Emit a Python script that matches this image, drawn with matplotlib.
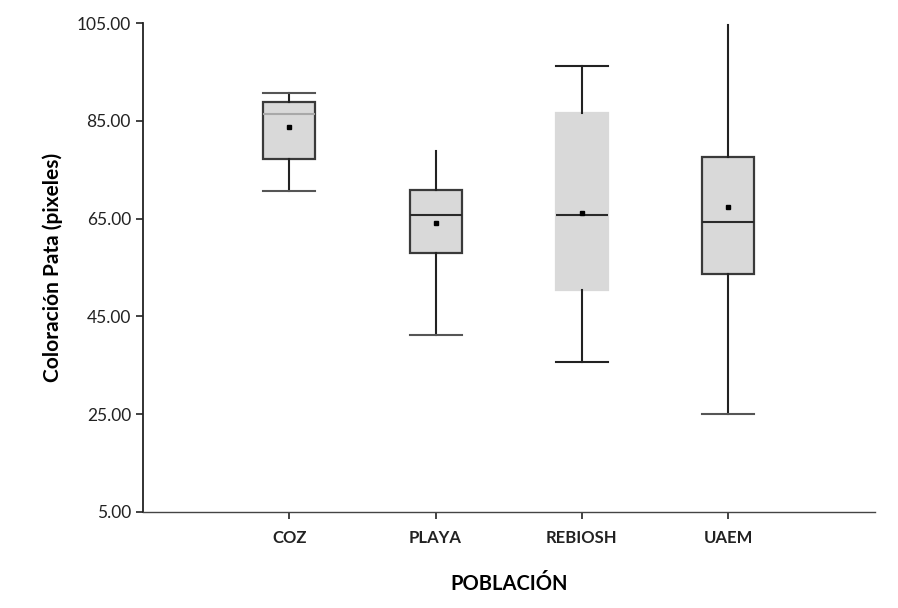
import matplotlib.pyplot as plt

plt.rcParams['font.family'] = ['Lato', 'DejaVu Sans']

poblaciones = ["COZ", "PLAYA", "REBIOSH", "UAEM"]
bigote_inf = [70.6, 41.1, 35.7, 25.0]
q1 = [77.2, 58.0, 50.4, 53.6]
mediana = [86.4, 65.7, 65.8, 64.4]
q3 = [88.8, 70.9, 86.7, 77.7]
bigote_sup = [90.7, 78.9, 96.2, 104.6]
media = [83.7, 64.2, 66.1, 67.4]

stats = []
for i, p in enumerate(poblaciones):
    stats.append({"label": p, "whislo": bigote_inf[i], "q1": q1[i], "med": mediana[i],
                  "q3": q3[i], "whishi": bigote_sup[i], "mean": media[i], "fliers": []})

fig = plt.figure(figsize=(8.98, 6.08), dpi=100)
ax = fig.add_axes([0.159, 0.158, 0.815, 0.804])

pos = [1, 2, 3, 4]
bp = ax.bxp(stats, positions=pos, widths=0.355, patch_artist=True, showmeans=True,
            boxprops=dict(facecolor="#d9d9d9", edgecolor="#3a3a3a", linewidth=1.6),
            medianprops=dict(color="#2a2a2a", linewidth=1.5),
            whiskerprops=dict(color="#222222", linewidth=1.5),
            capprops=dict(color="#555555", linewidth=1.5),
            meanprops=dict(marker="s", markersize=2.5, markerfacecolor="black",
                           markeredgecolor="black"),
            capwidths=0.355)

# detalles propios del grafico original
bp["medians"][0].set_color("#a8a8a8")
bp["boxes"][2].set_edgecolor("#d9d9d9")
bp["caps"][3].set_visible(False)   # PLAYA sin tapa superior
bp["caps"][7].set_visible(False)   # UAEM sin tapa superior
bp["caps"][4].set_color("#222222")
bp["caps"][5].set_color("#222222")

ax.set_xlim(0, 5)
ax.set_ylim(5, 105)
ax.set_yticks([5, 25, 45, 65, 85, 105])
ax.set_yticklabels(["5.00", "25.00", "45.00", "65.00", "85.00", "105.00"])
ax.set_xticks(pos)
ax.set_xticklabels(poblaciones, fontweight="bold")
ax.tick_params(axis="both", labelsize=12.5, colors="#222222", length=5, width=1.2)
ax.tick_params(axis="x", labelsize=12, pad=8)

for s in ["top", "right"]:
    ax.spines[s].set_visible(False)
ax.spines["left"].set_color("#222222")
ax.spines["left"].set_linewidth(1.3)
ax.spines["bottom"].set_color("#444444")
ax.spines["bottom"].set_linewidth(1.0)

ax.set_ylabel("Coloración Pata (pixeles)", fontsize=15, fontweight="bold", labelpad=10)
ax.set_xlabel("POBLACIÓN", fontsize=14.5, fontweight="bold", labelpad=20)

fig.savefig("out.png", dpi=100)
